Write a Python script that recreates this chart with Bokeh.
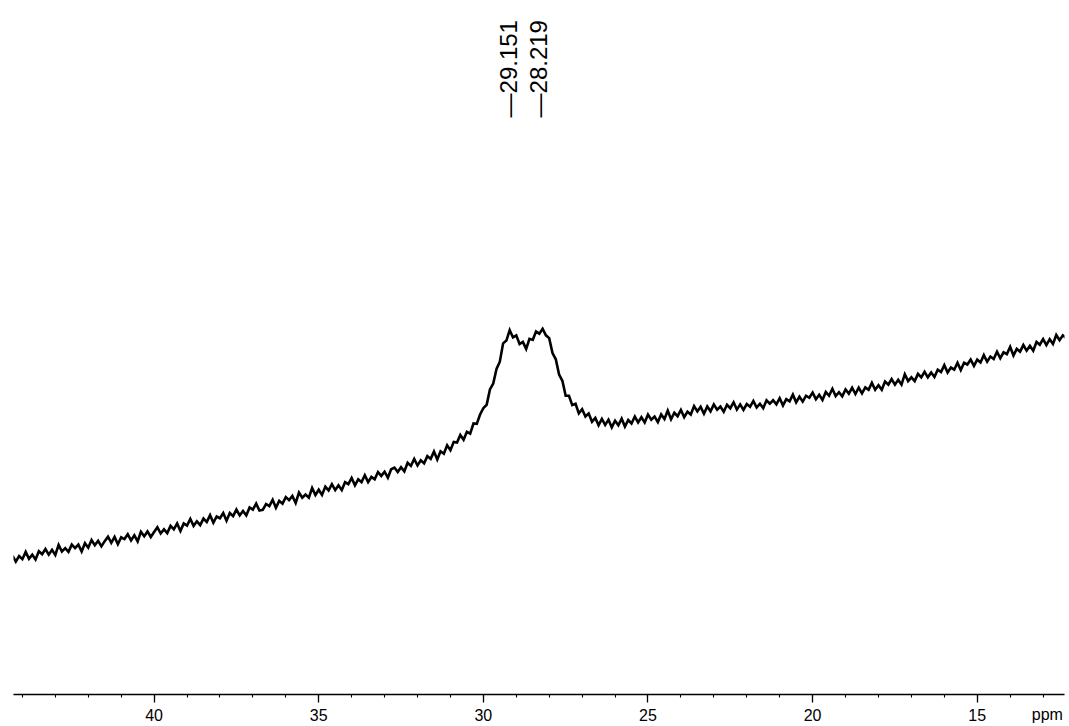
import math
from bokeh.plotting import figure
from bokeh.models import Range1d, FixedTicker, LinearAxis
from bokeh.core.properties import value
from bokeh.embed import file_html
from bokeh.resources import INLINE

# ---- data (13C NMR trace) ----
ppm_first = 44.3
ppm_step = 0.1
intensity = [
    40.0, 38.3, 39.9, 39.0,                                          # 44.3-44.0
    41.1, 39.1, 40.3, 38.9, 41.3, 40.4, 41.9, 40.3, 41.7, 40.2,      # 43.9-43.0
    43.1, 41.2, 42.2, 41.1, 43.2, 42.2, 43.2, 41.2, 43.6, 42.3,      # 42.9-42.0
    44.5, 43.0, 44.3, 42.7, 44.2, 45.5, 43.7, 45.4, 43.3, 45.3,      # 41.9-41.0
    44.8, 46.2, 44.4, 45.9, 44.1, 46.9, 45.6, 47.0, 45.4, 46.8,      # 40.9-40.0
    48.2, 46.4, 47.6, 46.5, 48.6, 47.6, 49.3, 47.1, 49.3, 48.7,      # 39.9-39.0
    50.6, 48.6, 49.9, 48.8, 50.7, 49.7, 51.7, 49.5, 51.3, 50.8,      # 38.9-38.0
    52.3, 50.1, 52.3, 51.4, 53.3, 51.6, 52.9, 51.6, 53.9, 53.3,      # 37.9-37.0
    55.0, 53.0, 53.2, 54.9, 54.3, 56.1, 53.8, 55.8, 55.0, 56.9,      # 36.9-36.0
    56.0, 57.2, 55.2, 58.2, 56.7, 57.6, 56.7, 59.5, 57.5, 59.0,      # 35.9-35.0
    57.5, 59.9, 58.8, 60.6, 58.9, 60.3, 58.9, 61.2, 60.6, 62.4,      # 34.9-34.0
    60.3, 62.0, 61.2, 63.2, 61.2, 62.7, 62.0, 64.1, 63.0, 64.2,      # 33.9-33.0
    62.5, 64.9, 65.4, 64.1, 65.5, 64.3, 66.8, 65.9, 67.9, 66.0,      # 32.9-32.0
    67.5, 66.6, 68.7, 67.9, 70.0, 67.7, 70.1, 69.4, 71.8, 70.4,      # 31.9-31.0
    72.8, 72.6, 74.8, 73.4, 75.7, 75.2, 78.1, 78.0, 80.7, 82.5,      # 30.9-30.0
    83.5, 87.9, 89.6, 93.8, 95.9, 101.2, 102.0, 105.0, 102.9, 103.5, # 29.9-29.0
    101.0, 101.6, 99.6, 102.5, 102.2, 104.6, 104.0, 105.4, 103.5, 102.7,  # 28.9-28.0
    98.4, 96.6, 92.2, 90.4, 86.1, 86.1, 83.4, 83.8, 81.0, 82.2,      # 27.9-27.0
    80.1, 81.0, 78.6, 79.7, 77.6, 79.4, 77.7, 79.2, 77.0, 78.9,      # 26.9-26.0
    77.6, 79.5, 77.2, 79.1, 78.1, 80.1, 78.4, 79.9, 78.4, 80.7,      # 25.9-25.0
    79.2, 80.1, 78.5, 80.7, 79.4, 81.8, 79.3, 81.2, 80.2, 82.0,      # 24.9-24.0
    79.9, 81.5, 80.7, 83.1, 81.6, 82.9, 80.9, 83.0, 81.6, 83.6,      # 23.9-23.0
    82.1, 83.0, 81.5, 83.5, 82.5, 84.2, 82.1, 83.6, 82.0, 83.7,      # 22.9-22.0
    82.9, 84.6, 82.7, 83.8, 82.5, 84.8, 83.8, 84.8, 83.6, 85.4,      # 21.9-21.0
    83.3, 85.1, 84.5, 86.4, 84.2, 85.8, 84.4, 86.1, 85.5, 87.0,      # 20.9-20.0
    85.1, 86.4, 84.9, 87.2, 86.1, 88.1, 86.0, 87.1, 85.9, 87.9,      # 19.9-19.0
    86.7, 88.4, 86.6, 88.4, 86.8, 88.5, 87.8, 89.8, 87.8, 89.1,      # 18.9-18.0
    87.8, 90.2, 89.3, 90.9, 89.3, 90.7, 89.3, 92.3, 90.3, 91.4,      # 17.9-17.0
    90.3, 92.4, 91.4, 93.0, 91.4, 92.8, 91.5, 93.6, 92.9, 94.9,      # 16.9-16.0
    92.8, 94.2, 93.6, 95.6, 93.5, 95.6, 95.1, 96.5, 94.7, 96.5,      # 15.9-15.0
    95.7, 97.8, 95.9, 97.4, 96.7, 98.8, 96.9, 98.6, 98.1, 100.2,     # 14.9-14.0
    97.7, 99.6, 98.8, 100.7, 99.1, 100.5, 99.1, 101.6, 100.8, 102.4, # 13.9-13.0
    100.7, 102.4, 101.0, 103.6, 102.1, 103.5, 102.7,                 # 12.9-12.3
]
ppm = [round(ppm_first - ppm_step * i, 1) for i in range(len(intensity))]

peak_ppm = [29.151, 28.219]
peak_text = ["\u201429.151", "\u201428.219"]

major_ticks = [40, 35, 30, 25, 20, 15]
minor_ticks = list(range(13, 45))
axis_unit = "ppm"
axis_unit_pos = 12.87

FONT = "Liberation Sans"

p = figure(width=1069, height=726, output_backend="svg", toolbar_location=None,
           x_range=Range1d(44.27, 12.35), y_range=Range1d(0, 200),
           min_border_left=13, min_border_right=5, min_border_top=0,
           min_border_bottom=32)
p.outline_line_color = None
p.grid.visible = False
p.yaxis.visible = False
p.background_fill_color = "white"
p.border_fill_color = "white"

p.line(ppm, intensity, line_color="black", line_width=2.6, line_join="miter")

p.text(x=peak_ppm, y=[166.3] * len(peak_ppm), text=peak_text,
       angle=math.pi / 2, text_align="left", text_baseline="middle",
       x_offset=-3,
       text_font=value(FONT), text_font_size="24px", text_color="black")

# main axis: line, ticks and numbers
ax = p.xaxis[0]
ax.ticker = FixedTicker(ticks=major_ticks, minor_ticks=minor_ticks)
ax.axis_line_color = "black"
ax.axis_line_width = 1.3
ax.major_tick_line_color = "black"
ax.major_tick_line_width = 1.3
ax.major_tick_in = 0
ax.major_tick_out = 8
ax.minor_tick_line_color = "black"
ax.minor_tick_line_width = 1.1
ax.minor_tick_in = 0
ax.minor_tick_out = 3
ax.major_label_text_font = FONT
ax.major_label_text_font_size = "16px"
ax.major_label_text_color = "black"
ax.major_label_standoff = 6

# unit axis: only the "ppm" label, pulled up onto the number row
ax2 = LinearAxis(ticker=FixedTicker(ticks=[axis_unit_pos], minor_ticks=[]),
                 major_label_overrides={axis_unit_pos: axis_unit},
                 axis_line_color=None, major_tick_line_color=None,
                 minor_tick_line_color=None, major_tick_in=0, major_tick_out=0,
                 minor_tick_in=0, minor_tick_out=0,
                 major_label_standoff=-18,
                 major_label_text_font=FONT, major_label_text_font_size="16px",
                 major_label_text_color="black")
p.add_layout(ax2, "below")

open("out.html", "w").write(file_html(p, INLINE))
